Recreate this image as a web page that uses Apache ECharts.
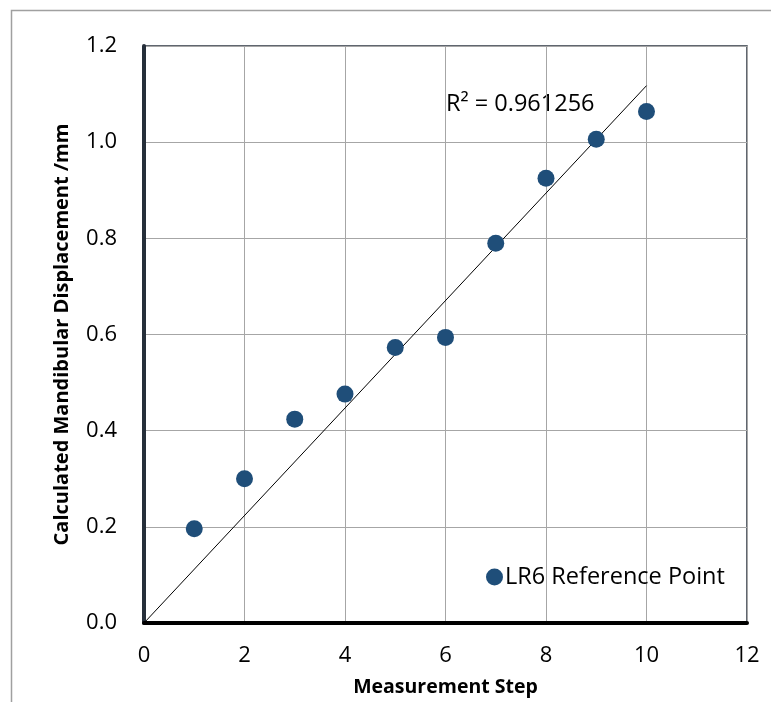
<!DOCTYPE html>
<html>
<head>
<meta charset="utf-8">
<script src="https://cdn.jsdelivr.net/npm/echarts@6/dist/echarts.min.js"></script>
<style>
  html, body { margin: 0; padding: 0; background: #fff; }
  #chart { width: 771px; height: 702px; }
</style>
</head>
<body>
<div id="chart"></div>
<script>
// Measurement steps and calculated displacement (mm) for the LR6 reference point
const steps = [1, 2, 3, 4, 5, 6, 7, 8, 9, 10];
const displacement = [0.196, 0.300, 0.424, 0.476, 0.573, 0.594, 0.790, 0.925, 1.006, 1.064];
const seriesName = 'LR6 Reference Point';
const rSquaredText = 'R² = 0.961256';

// Linear trendline forced through the origin (least squares)
let sxy = 0, sxx = 0;
steps.forEach((x, i) => { sxy += x * displacement[i]; sxx += x * x; });
const slope = sxy / sxx;
const trendX = [0, steps[steps.length - 1]];
const trendData = trendX.map(x => [x, slope * x]);

const font = 'Open Sans';
const chart = echarts.init(document.getElementById('chart'));
chart.setOption({
  animation: false,
  backgroundColor: '#fff',
  grid: {
    left: 144, right: 24, top: 46, bottom: 76,
    show: true, borderColor: '#2b3540', borderWidth: 1.5, backgroundColor: 'transparent'
  },
  graphic: [
    { type: 'polyline', shape: { points: [[11.5, 702], [11.5, 10.5], [771, 10.5]] },
      style: { stroke: '#a0a0a0', lineWidth: 1.5, fill: null }, silent: true },
    { type: 'text', left: 446, top: 92,
      style: { text: rSquaredText, font: '23.5px "' + font + '"', fill: '#000' } }
  ],
  legend: {
    data: [seriesName],
    left: 481, top: 560,
    icon: 'circle', itemWidth: 17, itemHeight: 17, itemGap: 4,
    textStyle: { fontFamily: font, fontSize: 23.5, color: '#000', padding: [0, 0, 0, -3] }
  },
  xAxis: {
    type: 'value', min: 0, max: 12, interval: 2,
    name: 'Measurement Step', nameLocation: 'middle', nameGap: 54,
    nameTextStyle: { fontFamily: font, fontSize: 19.5, fontWeight: 'bold', color: '#000' },
    axisLine: { show: true, onZero: false, lineStyle: { color: '#000', width: 4 } },
    axisTick: { show: false },
    axisLabel: { fontFamily: font, fontSize: 22, color: '#000', margin: 22 },
    splitLine: { show: true, lineStyle: { color: '#a6a6a6', width: 1 } }
  },
  yAxis: {
    type: 'value', min: 0, max: 1.2, interval: 0.2,
    name: 'Calculated Mandibular Displacement /mm', nameLocation: 'middle', nameGap: 72,
    nameTextStyle: { fontFamily: font, fontSize: 20, fontWeight: 'bold', color: '#000' },
    axisLine: { show: true, onZero: false, lineStyle: { color: '#262f3a', width: 4 } },
    axisTick: { show: false },
    axisLabel: { fontFamily: font, fontSize: 22, color: '#000', margin: 27,
      formatter: v => v.toFixed(1) },
    splitLine: { show: true, lineStyle: { color: '#a6a6a6', width: 1 } }
  },
  series: [
    {
      name: 'trend', type: 'line', data: trendData, showSymbol: false, silent: true,
      lineStyle: { color: '#000', width: 1 }, z: 3
    },
    {
      name: seriesName, type: 'scatter',
      data: steps.map((x, i) => [x, displacement[i]]),
      symbol: 'circle', symbolSize: 17,
      itemStyle: { color: '#1f4e79', opacity: 1 }, z: 4
    }
  ]
});
</script>
</body>
</html>
